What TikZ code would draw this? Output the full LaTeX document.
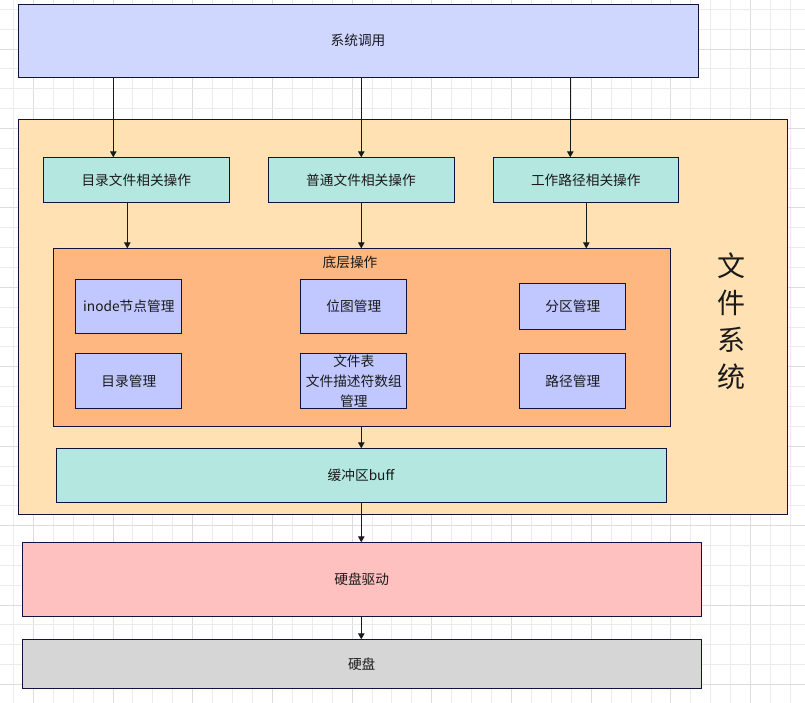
\documentclass[tikz,border=0pt]{standalone}
\usepackage{fontspec}
\newfontfamily\cjk{Noto Sans CJK SC}
\usetikzlibrary{arrows.meta}
\definecolor{gridlight}{HTML}{EBEBEB}
\definecolor{griddark}{HTML}{DCDCDC}
\definecolor{bordc}{HTML}{12123F}
\definecolor{txtc}{HTML}{1A1A1A}
\definecolor{syscol}{HTML}{CFD7FF}
\definecolor{fscol}{HTML}{FFE1B3}
\definecolor{tealcol}{HTML}{B3E7E0}
\definecolor{orangecol}{HTML}{FFB781}
\definecolor{bluecol}{HTML}{C0C8FF}
\definecolor{pinkcol}{HTML}{FFC0BF}
\definecolor{graycol}{HTML}{D6D6D6}
\tikzset{
  box/.style={draw=bordc, line width=1pt, rectangle, inner sep=0pt, outer sep=0pt,
    text=txtc, font=\cjk\fontsize{13.7}{19}\selectfont, align=center},
  arr/.style={draw=txtc, line width=1pt, -{Triangle[length=6pt,width=6.5pt]}},
  lbl/.style={inner sep=0pt, text=txtc, align=center}
}
\begin{document}
\begin{tikzpicture}[x=1pt,y=-1pt]
\useasboundingbox (0,0) rectangle (805,703);
\fill[white] (0,0) rectangle (805,703);
% grid
\foreach \i in {0,...,40} {
  \pgfmathsetmacro\gx{13.4+19.925*\i}
  \pgfmathtruncatemacro\gm{mod(\i,4)}
  \ifnum\gm=1
    \draw[griddark, line width=1pt] (\gx,0) -- (\gx,703);
  \else
    \draw[gridlight, line width=1pt] (\gx,0) -- (\gx,703);
  \fi
}
\foreach \j in {0,...,35} {
  \pgfmathsetmacro\gy{9.3+19.86*\j}
  \pgfmathtruncatemacro\gm{mod(\j,4)}
  \ifnum\gm=2
    \draw[griddark, line width=1pt] (0,\gy) -- (805,\gy);
  \else
    \draw[gridlight, line width=1pt] (0,\gy) -- (805,\gy);
  \fi
}
% boxes
\node[box, fill=syscol, minimum width=680pt, minimum height=73pt] (sys) at (358,40.7) {系统调用};
\node[box, fill=fscol, minimum width=769pt, minimum height=395pt] (fs) at (402.5,316.8) {};
\node[lbl, font=\cjk\fontsize{28}{37}\selectfont] (fsl) at (731.7,321) {文\\件\\系\\统};
\node[box, fill=tealcol, minimum width=186pt, minimum height=45pt] (op1) at (136.3,179.8) {目录文件相关操作};
\node[box, fill=tealcol, minimum width=186pt, minimum height=45pt] (op2) at (361,179.8) {普通文件相关操作};
\node[box, fill=tealcol, minimum width=185pt, minimum height=45pt] (op3) at (585.8,179.8) {工作路径相关操作};
\node[box, fill=orangecol, minimum width=617pt, minimum height=177.7pt] (low) at (361.8,337.2) {};
\node[lbl, font=\cjk\fontsize{13.7}{19}\selectfont] (lowl) at (350,262) {底层操作};
\node[box, fill=bluecol, minimum width=105.7pt, minimum height=54pt] (m1) at (128.8,306.3) {inode节点管理};
\node[box, fill=bluecol, minimum width=105.7pt, minimum height=54pt] (m2) at (353.8,306.3) {位图管理};
\node[box, fill=bluecol, minimum width=105.7pt, minimum height=46pt] (m3) at (572.8,306.3) {分区管理};
\node[box, fill=bluecol, minimum width=105.7pt, minimum height=55pt] (m4) at (128.8,380.8) {目录管理};
\node[box, fill=bluecol, minimum width=105.7pt, minimum height=55pt] (m5) at (353.8,380.8) {};
\node[lbl, font=\cjk\fontsize{13.7}{20}\selectfont] (m5l) at (353.8,381.5) {文件表\\文件描述符数组\\管理};
\node[box, fill=bluecol, minimum width=105.7pt, minimum height=55pt] (m6) at (572.8,380.8) {路径管理};
\node[box, fill=tealcol, minimum width=610pt, minimum height=54pt] (buf) at (361,475.3) {缓冲区buff};
\node[box, fill=pinkcol, minimum width=678.7pt, minimum height=74pt] (drv) at (361.7,579.3) {硬盘驱动};
\node[box, fill=graycol, minimum width=678.7pt, minimum height=49pt] (disk) at (361.7,663.8) {硬盘};
% arrow x positions
\coordinate (xa) at (113.3,0);
\coordinate (xb) at (361.3,0);
\coordinate (xc) at (570.3,0);
\coordinate (xd) at (127.3,0);
\coordinate (xe) at (586.3,0);
% arrows
\draw[arr] (sys.south -| xa) -- (op1.north -| xa);
\draw[arr] (sys.south -| xb) -- (op2.north -| xb);
\draw[arr] (sys.south -| xc) -- (op3.north -| xc);
\draw[arr] (op1.south -| xd) -- (low.north -| xd);
\draw[arr] (op2.south -| xb) -- (low.north -| xb);
\draw[arr] (op3.south -| xe) -- (low.north -| xe);
\draw[arr] (low.south -| xb) -- (buf.north -| xb);
\draw[arr] (buf.south -| xb) -- (drv.north -| xb);
\draw[arr] (drv.south -| xb) -- (disk.north -| xb);
\end{tikzpicture}
\end{document}
